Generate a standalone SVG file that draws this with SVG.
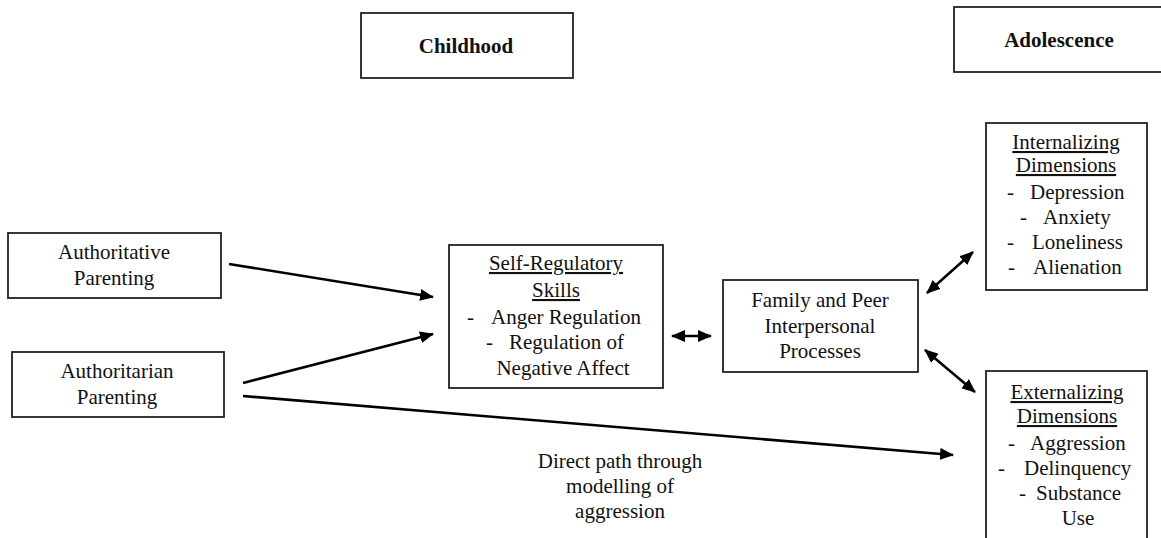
<svg xmlns="http://www.w3.org/2000/svg" width="1161" height="538" viewBox="0 0 1161 538">
<style>
.box{fill:#fff;stroke:#222;stroke-width:1.8}
.t{font-family:"Liberation Serif","Times New Roman",serif;font-size:21px;fill:#111}
.c{text-anchor:middle}
.b{font-weight:bold}
.u{text-decoration:underline}
.con{stroke:#000;stroke-width:2.6;fill:none}
</style>
<defs>
<marker id="ah" markerUnits="userSpaceOnUse" markerWidth="14" markerHeight="12" refX="13" refY="6" orient="auto-start-reverse" viewBox="0 0 14 12">
<path d="M0,0 L14,6 L0,12 Z" fill="#000"/>
</marker>
</defs>
<rect width="1161" height="538" fill="#fff"/>
<g id="childhood">
<rect class="box" x="361" y="13" width="212" height="65"/>
<text class="t c b" x="466" y="53">Childhood</text>
</g>
<g id="adolescence">
<rect class="box" x="954" y="7" width="215" height="65"/>
<text class="t c b" x="1059" y="47">Adolescence</text>
</g>
<g id="authoritative">
<rect class="box" x="8" y="233" width="213" height="65"/>
<text class="t c" x="114" y="259">Authoritative</text>
<text class="t c" x="114" y="285">Parenting</text>
</g>
<g id="authoritarian">
<rect class="box" x="12" y="352" width="212" height="65"/>
<text class="t c" x="117" y="378">Authoritarian</text>
<text class="t c" x="117" y="404">Parenting</text>
</g>
<g id="selfreg">
<rect class="box" x="449" y="245" width="214" height="143"/>
<text class="t c u" x="556" y="270">Self-Regulatory</text>
<text class="t c u" x="556" y="297">Skills</text>
<text class="t" x="467" y="324">-</text>
<text class="t" x="491" y="324">Anger Regulation</text>
<text class="t" x="486" y="349">-</text>
<text class="t" x="509" y="349">Regulation of</text>
<text class="t c" x="563" y="375">Negative Affect</text>
</g>
<g id="family">
<rect class="box" x="723" y="280" width="195" height="92"/>
<text class="t c" x="820" y="307">Family and Peer</text>
<text class="t c" x="820" y="333">Interpersonal</text>
<text class="t c" x="820" y="358">Processes</text>
</g>
<g id="internalizing">
<rect class="box" x="986" y="123" width="161" height="167"/>
<text class="t c u" x="1066" y="149">Internalizing</text>
<text class="t c u" x="1066" y="172">Dimensions</text>
<text class="t" x="1007" y="199">-</text>
<text class="t" x="1030" y="199">Depression</text>
<text class="t" x="1020" y="224">-</text>
<text class="t" x="1043" y="224">Anxiety</text>
<text class="t" x="1007" y="249">-</text>
<text class="t" x="1032" y="249">Loneliness</text>
<text class="t" x="1008" y="274">-</text>
<text class="t" x="1033" y="274">Alienation</text>
</g>
<g id="externalizing">
<rect class="box" x="986" y="371" width="161" height="180"/>
<text class="t c u" x="1067" y="399">Externalizing</text>
<text class="t c u" x="1067" y="423">Dimensions</text>
<text class="t" x="1008" y="450">-</text>
<text class="t" x="1030" y="450">Aggression</text>
<text class="t" x="998" y="475">-</text>
<text class="t" x="1024" y="475">Delinquency</text>
<text class="t" x="1019" y="500">-</text>
<text class="t" x="1036" y="500">Substance</text>
<text class="t c" x="1078" y="525">Use</text>
</g>
<g id="label-direct">
<text class="t c" x="620" y="468">Direct path through</text>
<text class="t c" x="620" y="493">modelling of</text>
<text class="t c" x="620" y="518">aggression</text>
</g>
<g id="connectors">
<line class="con" x1="229" y1="264" x2="433" y2="297" marker-end="url(#ah)"/>
<line class="con" x1="243" y1="383" x2="433" y2="334" marker-end="url(#ah)"/>
<line class="con" x1="243" y1="396" x2="953" y2="455" marker-end="url(#ah)"/>
<line class="con" x1="672" y1="336" x2="711" y2="336" marker-start="url(#ah)" marker-end="url(#ah)"/>
<line class="con" x1="927" y1="293" x2="973" y2="252" marker-start="url(#ah)" marker-end="url(#ah)"/>
<line class="con" x1="925" y1="350" x2="975" y2="392" marker-start="url(#ah)" marker-end="url(#ah)"/>
</g>
</svg>
